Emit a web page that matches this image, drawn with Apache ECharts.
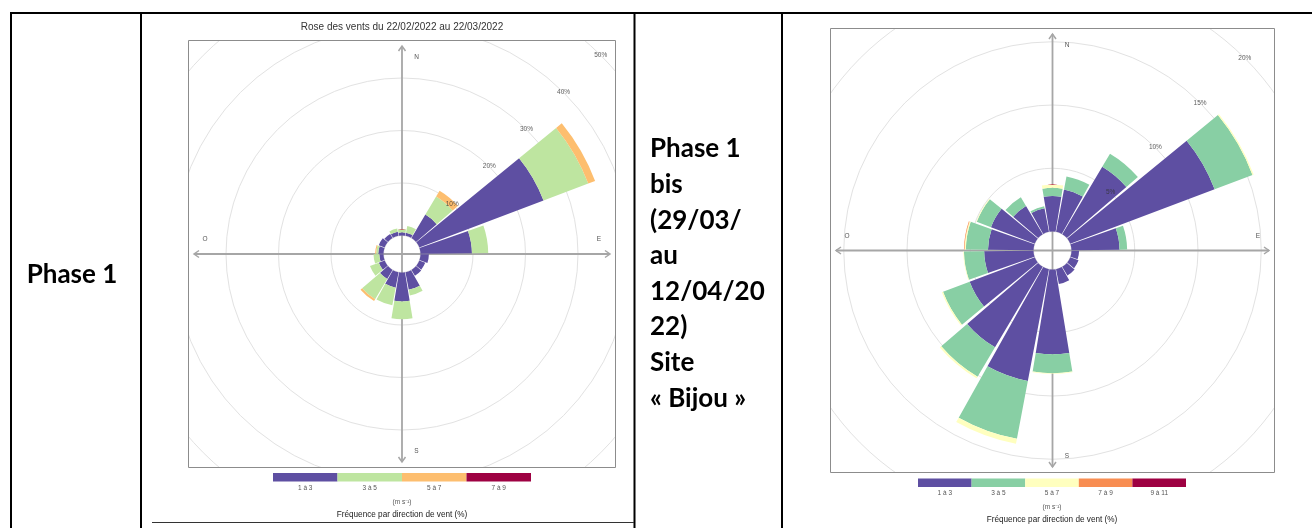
<!DOCTYPE html>
<html>
<head>
<meta charset="utf-8">
<script src="https://cdn.jsdelivr.net/npm/echarts@6/dist/echarts.min.js"></script>
<style>
html, body { margin: 0; padding: 0; background: #fff; }
#frame { position: absolute; left: 0; top: 0; width: 1312px; height: 528px; }
#roseA { position: absolute; left: 188px; top: 40px; width: 428px; height: 428px; }
#roseB { position: absolute; left: 830px; top: 28px; width: 445px; height: 445px; }
</style>
</head>
<body>
<div id="frame"></div>
<div id="roseA"></div>
<div id="roseB"></div>
<script>
// secteurs de 20°
var directions = ['20', '40', '60', '80', '100', '120', '140', '160', '180', '200', '220', '240', '260', '280', '300', '320', '340', '360'];

// Phase 1 (22/02/2022 au 22/03/2022) - fréquence (%) par classe de vitesse
var p1_1a3 = [0.6, 5.2, 25.3, 9.8, 1.6, 1.2, 1.3, 3.4, 5.5, 3.0, 2.0, 1.2, 0.8, 1.0, 1.2, 0.9, 0.8, 0.6];
var p1_3a5 = [1.3, 4.0, 9.1, 3.1, 0, 0, 0, 1.1, 3.4, 3.4, 4.5, 1.8, 1.1, 0.4, 0, 0, 0.6, 0.6];
var p1_5a7 = [0, 1.3, 1.4, 0, 0, 0, 0, 0, 0, 0, 0.4, 0, 0, 0.2, 0, 0, 0, 0];
var p1_7a9 = [0, 0, 0, 0, 0, 0, 0, 0, 0, 0, 0, 0, 0, 0, 0, 0, 0, 0];

// Phase 1 bis (29/03 au 12/04/2022) - site Bijou
var p1b_1a3 = [3.4, 6.2, 12.2, 3.8, 0.6, 0.7, 0.8, 1.2, 6.7, 9.0, 7.4, 5.5, 3.9, 3.6, 3.7, 2.6, 1.9, 2.8];
var p1b_3a5 = [1.05, 1.2, 3.2, 0.6, 0, 0, 0, 0, 1.5, 4.65, 2.7, 2.25, 1.6, 1.75, 1.2, 0.8, 0.15, 0.65];
var p1b_5a7 = [0, 0, 0.1, 0, 0, 0, 0, 0, 0.05, 0.4, 0.15, 0.1, 0.05, 0.1, 0.05, 0, 0, 0.25];
var p1b_7a9 = [0, 0, 0, 0, 0, 0, 0, 0, 0, 0, 0, 0, 0, 0.05, 0, 0, 0, 0];
var p1b_9a11 = [0, 0, 0, 0, 0, 0, 0, 0, 0, 0, 0, 0, 0, 0, 0, 0, 0, 0];

var bins1 = ['1 à 3', '3 à 5', '5 à 7', '7 à 9'];
var bins2 = ['1 à 3', '3 à 5', '5 à 7', '7 à 9', '9 à 11'];
var colors1 = ['#5E4FA2', '#BEE5A0', '#FDBE6F', '#9E0142'];
var colors2 = ['#5E4FA2', '#88CFA4', '#FFFFBF', '#F88D52', '#9E0142'];
var ticks1 = [10, 20, 30, 40, 50];
var ticks2 = [5, 10, 15, 20];

var FONT = '"Liberation Sans", Arial, sans-serif';

function arrowHead(x, y, dx, dy) {
  // petite tête de flèche ouverte
  var px = -dy, py = dx;
  return {
    type: 'polyline', z: 1, silent: true,
    shape: { points: [[x - dx * 5 + px * 3.5, y - dy * 5 + py * 3.5], [x, y], [x - dx * 5 - px * 3.5, y - dy * 5 - py * 3.5]] },
    style: { stroke: '#a6a6a6', lineWidth: 1.5, fill: 'none' }
  };
}

function roseOption(size, hole, outer, maxPct, step, ticks, values, colors) {
  var c = size / 2, L = c - 6, d = c - 17, p = 14.5;
  var series = values.map(function (v, i) {
    return {
      type: 'bar', coordinateSystem: 'polar', polarIndex: 0, stack: 'v',
      data: v, barCategoryGap: '7%', silent: true,
      itemStyle: { color: colors[i] }
    };
  });
  // étiquettes des cercles (%), à 45°
  series.push({
    type: 'scatter', coordinateSystem: 'polar', polarIndex: 1, symbolSize: 0, silent: true, z: 10,
    data: ticks.map(function (t) { return [t, 45]; }),
    label: {
      show: true, position: 'inside', color: '#333', fontSize: 6.5, fontFamily: FONT,
      formatter: function (q) { return q.value[0] + '%'; }
    }
  });
  var txt = function (s, x, y) {
    return { type: 'text', z: 3, silent: true, style: { text: s, x: x, y: y, fill: '#555', fontSize: 6.5, fontFamily: FONT, align: 'center', verticalAlign: 'middle' } };
  };
  return {
    animation: false,
    backgroundColor: '#fff',
    polar: [
      { center: ['50%', '50%'], radius: [hole, outer] },
      { center: ['50%', '50%'], radius: [hole, outer] }
    ],
    angleAxis: [
      { polarIndex: 0, type: 'category', data: directions, startAngle: 80, clockwise: true,
        axisLine: { show: false }, axisTick: { show: false }, axisLabel: { show: false }, splitLine: { show: false } },
      { polarIndex: 1, type: 'value', min: 0, max: 360, startAngle: 90, clockwise: true, show: false }
    ],
    radiusAxis: [
      { polarIndex: 0, type: 'value', min: 0, max: maxPct, interval: step,
        axisLine: { show: false }, axisTick: { show: false }, axisLabel: { show: false },
        splitLine: { show: true, showMinLine: false, lineStyle: { color: '#e2e2e2', width: 1 } } },
      { polarIndex: 1, type: 'value', min: 0, max: maxPct, show: false }
    ],
    series: series,
    graphic: [
      { type: 'line', z: 1, silent: true, shape: { x1: c, y1: c - L, x2: c, y2: c + L }, style: { stroke: '#a6a6a6', lineWidth: 1.8 } },
      { type: 'line', z: 1, silent: true, shape: { x1: c - L, y1: c, x2: c + L, y2: c }, style: { stroke: '#a6a6a6', lineWidth: 1.8 } },
      arrowHead(c, c - L, 0, -1), arrowHead(c, c + L, 0, 1),
      arrowHead(c + L, c, 1, 0), arrowHead(c - L, c, -1, 0),
      txt('N', c + p, c - d), txt('S', c + p, c + d),
      txt('E', c + d, c - p), txt('O', c - d, c - p),
      { type: 'rect', z: 100, silent: true, shape: { x: 0.5, y: 0.5, width: size - 1, height: size - 1 },
        style: { fill: 'none', stroke: '#8c8c8c', lineWidth: 1 } }
    ]
  };
}

var roseA = echarts.init(document.getElementById('roseA'));
roseA.setOption(roseOption(428, 18.5, 281, 50, 10, ticks1, [p1_1a3, p1_3a5, p1_5a7, p1_7a9], colors1));

var roseB = echarts.init(document.getElementById('roseB'));
roseB.setOption(roseOption(445, 19, 272, 20, 5, ticks2, [p1b_1a3, p1b_3a5, p1b_5a7, p1b_7a9, p1b_9a11], colors2));

// cadre du tableau, textes et légendes
function legend(x0, w, y, labels, colors, cx) {
  var g = [];
  labels.forEach(function (s, i) {
    g.push({ type: 'rect', silent: true, shape: { x: x0 + i * w, y: y, width: w, height: 8.5 }, style: { fill: colors[i] } });
    g.push({ type: 'text', silent: true, style: { text: s, x: x0 + i * w + w / 2, y: y + 15, fill: '#555', fontSize: 6.5, fontFamily: FONT, align: 'center', verticalAlign: 'middle' } });
  });
  g.push({ type: 'text', silent: true, style: { text: '(m s\u207B\u00B9)', x: cx, y: y + 29, fill: '#555', fontSize: 6.5, fontFamily: FONT, align: 'center', verticalAlign: 'middle' } });
  g.push({ type: 'text', silent: true, style: { text: 'Fréquence par direction de vent (%)', x: cx, y: y + 41.5, fill: '#1a1a1a', fontSize: 8.2, fontFamily: FONT, align: 'center', verticalAlign: 'middle' } });
  return g;
}

var phase1bis = ['Phase 1', 'bis', '(29/03/', 'au', '12/04/20', '22)', 'Site', '« Bijou »'];

var frameGraphic = [
  { type: 'line', shape: { x1: 10, y1: 13, x2: 1312, y2: 13 }, style: { stroke: '#000', lineWidth: 2 } },
  { type: 'line', shape: { x1: 11, y1: 12, x2: 11, y2: 528 }, style: { stroke: '#000', lineWidth: 2 } },
  { type: 'line', shape: { x1: 141, y1: 12, x2: 141, y2: 528 }, style: { stroke: '#000', lineWidth: 2 } },
  { type: 'line', shape: { x1: 634.5, y1: 12, x2: 634.5, y2: 528 }, style: { stroke: '#000', lineWidth: 2 } },
  { type: 'line', shape: { x1: 782, y1: 12, x2: 782, y2: 528 }, style: { stroke: '#000', lineWidth: 2 } },
  { type: 'line', shape: { x1: 152, y1: 522.5, x2: 634, y2: 522.5 }, style: { stroke: '#333', lineWidth: 1 } },
  { type: 'text', style: { text: 'Phase 1', x: 72, y: 275, fill: '#000', fontSize: 26, fontWeight: 'bold', fontFamily: 'Lato', align: 'center', verticalAlign: 'middle' } },
  { type: 'text', style: { text: 'Rose des vents du 22/02/2022 au 22/03/2022', x: 402, y: 27, fill: '#333', fontSize: 10, fontFamily: FONT, align: 'center', verticalAlign: 'middle' } }
];
phase1bis.forEach(function (s, i) {
  frameGraphic.push({ type: 'text', style: { text: s, x: 650, y: 149 + i * 35.6, fill: '#000', fontSize: 26, fontWeight: 'bold', fontFamily: 'Lato', align: 'left', verticalAlign: 'middle' } });
});
frameGraphic = frameGraphic.concat(legend(273, 64.5, 473, bins1, colors1, 402));
frameGraphic = frameGraphic.concat(legend(918, 53.6, 478.5, bins2, colors2, 1052));

var frame = echarts.init(document.getElementById('frame'));
frame.setOption({ animation: false, backgroundColor: '#fff', graphic: frameGraphic });
</script>
</body>
</html>
